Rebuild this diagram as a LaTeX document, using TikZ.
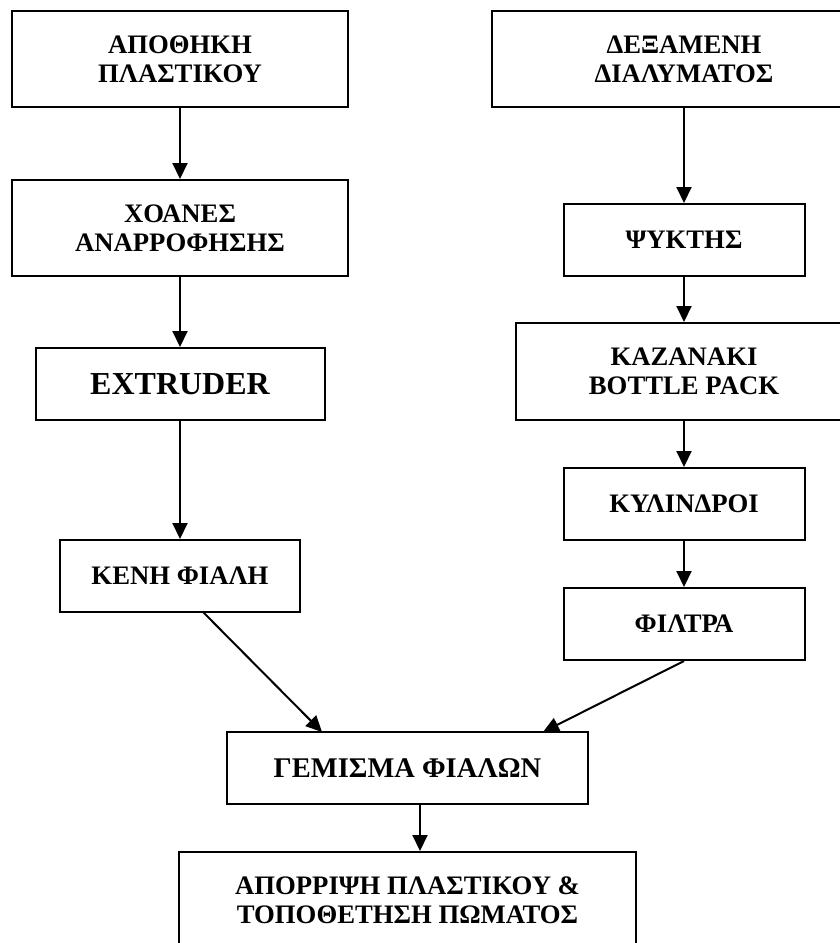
\documentclass[tikz,border=0pt]{standalone}
\usepackage{fontspec}
\setmainfont{Liberation Serif}
\usetikzlibrary{arrows.meta}
\begin{document}
\begin{tikzpicture}[x=1pt,y=-1pt,
  box/.style={draw=black,line width=2pt,fill=white,align=center,inner sep=0pt,
    font=\fontsize{26.7}{29}\selectfont\bfseries},
  bigbox/.style={box,font=\fontsize{32}{36}\selectfont\bfseries},
  midbox/.style={box,font=\fontsize{28.5}{32}\selectfont\bfseries},
  arr/.style={line width=2pt,-{Triangle[length=16pt,width=15pt]}}]
\useasboundingbox (0,0) rectangle (840,943);
\clip (0,0) rectangle (840,943);
% left column
\node[box,minimum width=336,minimum height=96] (a) at (180,59) {ΑΠΟΘΗΚΗ\\ΠΛΑΣΤΙΚΟΥ};
\node[box,minimum width=336,minimum height=96] (b) at (180,228) {ΧΟΑΝΕΣ\\ΑΝΑΡΡΟΦΗΣΗΣ};
\node[bigbox,minimum width=289,minimum height=72] (c) at (180,384) {EXTRUDER};
\node[box,minimum width=240,minimum height=72] (d) at (180,576) {ΚΕΝΗ ΦΙΑΛΗ};
% right column
\node[box,minimum width=384,minimum height=96] (e) at (684,59) {ΔΕΞΑΜΕΝΗ\\ΔΙΑΛΥΜΑΤΟΣ};
\node[box,minimum width=241,minimum height=72] (f) at (684,240) {ΨΥΚΤΗΣ};
\node[box,minimum width=336,minimum height=97] (g) at (684,371.5) {ΚΑΖΑΝΑΚΙ\\BOTTLE PACK};
\node[box,minimum width=241,minimum height=72] (h) at (684,504) {ΚΥΛΙΝΔΡΟΙ};
\node[box,minimum width=241,minimum height=72] (i) at (684,624) {ΦΙΛΤΡΑ};
% bottom
\node[midbox,minimum width=361,minimum height=72] (j) at (407.5,768) {ΓΕΜΙΣΜΑ ΦΙΑΛΩΝ};
\node[box,minimum width=457,minimum height=96] (k) at (407.5,900) {ΑΠΟΡΡΙΨΗ ΠΛΑΣΤΙΚΟΥ \&\\ΤΟΠΟΘΕΤΗΣΗ ΠΩΜΑΤΟΣ};
% connectors
\draw[arr] (a.south) -- (b.north);
\draw[arr] (b.south) -- (c.north);
\draw[arr] (c.south) -- (d.north);
\draw[arr] (e.south) -- (f.north);
\draw[arr] (f.south) -- (g.north);
\draw[arr] (g.south) -- (h.north);
\draw[arr] (h.south) -- (i.north);
\coordinate (ds) at (203,612);
\coordinate (jl) at (322,732);
\coordinate (jr) at (543,732);
\draw[arr] (ds) -- (jl);
\draw[arr] (i.south) -- (jr);
\coordinate (js) at ([xshift=12.5pt]j.south);
\draw[arr] (js) -- (js |- k.north);
\end{tikzpicture}
\end{document}
